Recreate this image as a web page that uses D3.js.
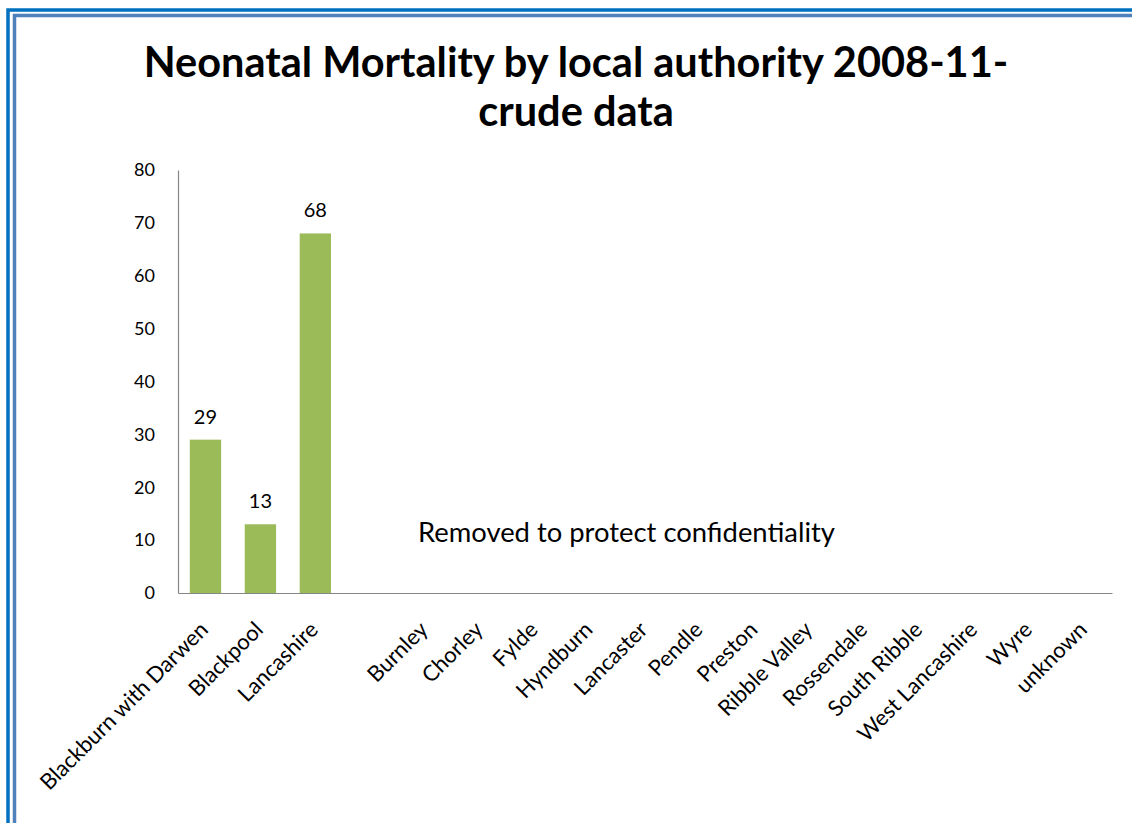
<!DOCTYPE html>
<html>
<head>
<meta charset="utf-8">
<script src="https://cdn.jsdelivr.net/npm/d3@7"></script>
<style>
  html, body { margin: 0; padding: 0; background: #fff; }
  svg { display: block; }
  text { font-family: Lato, "Open Sans", sans-serif; fill: #000; }
</style>
</head>
<body>
<svg id="chart" width="1132" height="823"></svg>
<script>
// Local authorities (the empty slot separates the suppressed districts)
const categories = [
  "Blackburn with Darwen", "Blackpool", "Lancashire", "",
  "Burnley", "Chorley", "Fylde", "Hyndburn", "Lancaster", "Pendle",
  "Preston", "Ribble Valley", "Rossendale", "South Ribble",
  "West Lancashire", "Wyre", "unknown"
];
// Neonatal deaths 2008-11; null where the count is withheld
const deaths = [29, 13, 68, null, null, null, null, null, null, null, null, null, null, null, null, null, null];
const yTicks = [0, 10, 20, 30, 40, 50, 60, 70, 80];
const titleLines = ["Neonatal Mortality by local authority 2008-11-", "crude data"];
const note = "Removed to protect confidentiality";

const svg = d3.select("#chart");
const W = 1132, H = 823;

// frame: dark outer rule with a lighter inner rule
svg.append("rect").attr("x", 8).attr("y", 10).attr("width", W).attr("height", H)
  .attr("fill", "none").attr("stroke", "#0070C0").attr("stroke-width", 3.5);
svg.append("rect").attr("x", 14.5).attr("y", 15.5).attr("width", W).attr("height", H)
  .attr("fill", "none").attr("stroke", "#4F81BD").attr("stroke-width", 3.5);

const plot = { left: 178, right: 1112, top: 170, bottom: 593 };

const x = d3.scaleBand().domain(d3.range(categories.length))
  .range([plot.left, plot.right]).paddingInner(0.43).paddingOuter(0.215);
const y = d3.scaleLinear().domain([0, 80]).range([plot.bottom, plot.top]);

// title
svg.append("text").attr("x", 576).attr("text-anchor", "middle")
  .attr("font-weight", "bold").attr("font-size", 41.5)
  .selectAll("tspan").data(titleLines).join("tspan")
  .attr("x", 576).attr("y", (d, i) => 77 + i * 49).text(d => d);

// y axis (labels only, no tick marks)
const yAxis = d3.axisLeft(y).tickValues(yTicks).tickSize(0).tickPadding(23);
const gy = svg.append("g").attr("transform", `translate(${plot.left},0)`).call(yAxis);
gy.select(".domain").attr("stroke", "#868686").attr("stroke-width", 1.2);
gy.selectAll("text").attr("font-size", 18).attr("font-family", "Lato, sans-serif").attr("fill", "#000");

// x axis baseline
const xAxis = d3.axisBottom(x).tickSize(0).tickFormat(() => "");
const gx = svg.append("g").attr("transform", `translate(0,${plot.bottom})`).call(xAxis);
gx.select(".domain").attr("stroke", "#868686").attr("stroke-width", 1.2);

// rotated category labels
svg.append("g").selectAll("text").data(categories).join("text")
  .attr("transform", (d, i) => `translate(${x(i) + x.bandwidth() / 2 + 4},${plot.bottom + 38}) rotate(-45)`)
  .attr("text-anchor", "end").attr("font-size", 22).text(d => d);

// bars
const barData = deaths.map((v, i) => ({ i, v })).filter(d => d.v !== null);
svg.append("g").selectAll("rect").data(barData).join("rect")
  .attr("x", d => x(d.i)).attr("width", x.bandwidth())
  .attr("y", d => y(d.v)).attr("height", d => y(0) - y(d.v))
  .attr("fill", "#9BBB59");

// value labels
svg.append("g").selectAll("text").data(barData).join("text")
  .attr("x", d => x(d.i) + x.bandwidth() / 2).attr("y", d => y(d.v) - 16)
  .attr("text-anchor", "middle").attr("font-size", 20).text(d => d.v);

// suppression note
svg.append("text").attr("x", 418).attr("y", 542).attr("font-size", 27.4).text(note);
</script>
</body>
</html>
